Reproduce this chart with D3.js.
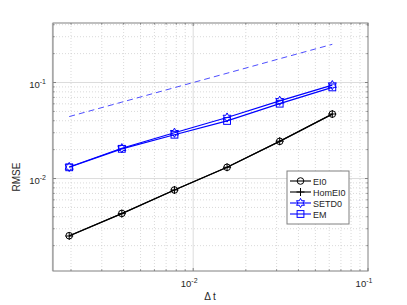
<!DOCTYPE html>
<html>
<head>
    <style type="text/css">
        body { margin: 0; background: #fff; }
        #mySvg { width: 407px; height: 305px; display: block; }
        text { font-family: "Liberation Sans", Arial, sans-serif; fill: #262626; }
        .grid-minor { stroke: #c8c8c8; stroke-width: 0.7px; stroke-dasharray: 1,2; }
        .grid-major { stroke: #dcdcdc; stroke-width: 1px; }
        .frame { fill: none; stroke: #808080; stroke-width: 1px; }
        .series { fill: none; stroke-width: 1.2px; }
    </style>
    <script src="https://d3js.org/d3.v7.min.js"></script>
</head>
<body>
    <svg id="mySvg"></svg>
</body>
<script type="text/javascript">
// step sizes (2^-9 ... 2^-4)
const dt = [0.001953, 0.003906, 0.0078125, 0.015625, 0.03125, 0.0625];

// error values
const ei0    = [0.00254, 0.00433, 0.0076, 0.0131, 0.0244, 0.0469];
const homEi0 = [0.00252, 0.00431, 0.0076, 0.0131, 0.0245, 0.0470];
const setd0  = [0.0132, 0.0207, 0.0300, 0.0432, 0.0645, 0.0940];
const em     = [0.0131, 0.0204, 0.0286, 0.0398, 0.0602, 0.0890];
const refLine = [0.0442, 0.0625, 0.0884, 0.125, 0.177, 0.25];

const seriesNames = ['EI0', 'HomEI0', 'SETD0', 'EM'];
const xTickLabels = ['-2', '-1'];
const yTickLabels = ['-2', '-1'];

const svg = d3.select('#mySvg');
const plotL = 53, plotR = 368, plotT = 23, plotB = 271;

const x = d3.scaleLog().domain([Math.pow(10, -2.802), 0.1]).range([plotL, plotR]);
const y = d3.scaleLog().domain([Math.pow(10, -2.963), Math.pow(10, -0.38)]).range([plotB, plotT]);

// minor / major grid
const xMinor = [], yMinor = [];
[-3, -2].forEach(e => { for (let k = 2; k <= 9; k++) { const v = k * Math.pow(10, e); if (v > x.domain()[0]) xMinor.push(v); } });
[-3, -2, -1].forEach(e => { for (let k = 2; k <= 9; k++) { const v = k * Math.pow(10, e); if (v > y.domain()[0] && v < y.domain()[1]) yMinor.push(v); } });
const xMajor = [0.01], yMajor = [0.01, 0.1];

const g = svg.append('g');
g.selectAll('line.xm').data(xMinor).enter().append('line')
    .attr('class', 'grid-minor')
    .attr('x1', d => x(d)).attr('x2', d => x(d)).attr('y1', plotT).attr('y2', plotB);
g.selectAll('line.ym').data(yMinor).enter().append('line')
    .attr('class', 'grid-minor')
    .attr('y1', d => y(d)).attr('y2', d => y(d)).attr('x1', plotL).attr('x2', plotR);
g.selectAll('line.xM').data(xMajor).enter().append('line')
    .attr('class', 'grid-major')
    .attr('x1', d => x(d)).attr('x2', d => x(d)).attr('y1', plotT).attr('y2', plotB);
g.selectAll('line.yM').data(yMajor).enter().append('line')
    .attr('class', 'grid-major')
    .attr('y1', d => y(d)).attr('y2', d => y(d)).attr('x1', plotL).attr('x2', plotR);

// axes with inward ticks
const tickLen = 3, minorLen = 1.6;
function ticksX(vals, len) {
    vals.forEach(v => {
        g.append('line').attr('x1', x(v)).attr('x2', x(v)).attr('y1', plotB).attr('y2', plotB - len).attr('stroke', '#808080');
        g.append('line').attr('x1', x(v)).attr('x2', x(v)).attr('y1', plotT).attr('y2', plotT + len).attr('stroke', '#808080');
    });
}
function ticksY(vals, len) {
    vals.forEach(v => {
        g.append('line').attr('y1', y(v)).attr('y2', y(v)).attr('x1', plotL).attr('x2', plotL + len).attr('stroke', '#808080');
        g.append('line').attr('y1', y(v)).attr('y2', y(v)).attr('x1', plotR).attr('x2', plotR - len).attr('stroke', '#808080');
    });
}
ticksX(xMinor, minorLen); ticksX(xMajor.concat([0.1]), tickLen);
ticksY(yMinor, minorLen); ticksY(yMajor, tickLen);

g.append('rect').attr('class', 'frame')
    .attr('x', plotL).attr('y', plotT).attr('width', plotR - plotL).attr('height', plotB - plotT);
// the left edge looks a bit heavier in the original
g.append('line').attr('x1', plotL - 0.5).attr('x2', plotL - 0.5).attr('y1', plotT).attr('y2', plotB)
    .attr('stroke', '#a8a8a8').attr('stroke-width', 1.2);

// tick labels
const xTickVals = [0.01, 0.1];
xTickVals.forEach((v, i) => {
    const t = svg.append('text').attr('x', x(v) - 4).attr('y', 287)
        .attr('text-anchor', 'middle').style('font-size', '9.5px');
    t.append('tspan').text('10');
    t.append('tspan').attr('dy', -4).style('font-size', '7px').text(xTickLabels[i]);
});
const yTickVals = [0.01, 0.1];
yTickVals.forEach((v, i) => {
    const t = svg.append('text').attr('x', 46).attr('y', y(v) + 5)
        .attr('text-anchor', 'end').style('font-size', '9.5px');
    t.append('tspan').text('10');
    t.append('tspan').attr('dy', -4).style('font-size', '7px').text(yTickLabels[i]);
});

// axis labels
svg.append('text').attr('x', 210).attr('y', 299.5).attr('text-anchor', 'middle')
    .style('font-size', '10px').text('\u0394 t');
svg.append('text').attr('transform', 'translate(20,177) rotate(-90)').attr('text-anchor', 'middle')
    .style('font-size', '10px').text('RMSE');

// reference slope line
const line = d3.line().x(d => x(d[0])).y(d => y(d[1]));
svg.append('path').datum(d3.zip(dt, refLine))
    .attr('d', line).attr('fill', 'none').attr('stroke', '#3a3aff')
    .attr('stroke-width', 0.9).attr('stroke-dasharray', '6,4');

// marker shapes
function hexagram(r) {
    const pts = [];
    for (let k = 0; k < 12; k++) {
        const a = -Math.PI / 2 + k * Math.PI / 6;
        const rr = k % 2 === 0 ? r : r * 0.55;
        pts.push([rr * Math.cos(a), rr * Math.sin(a)]);
    }
    return 'M' + pts.map(p => p.join(',')).join('L') + 'Z';
}
const markers = {
    circle: s => s.append('circle').attr('r', 3.3).attr('fill', 'none'),
    plus: s => s.append('path').attr('d', 'M-4,0H4M0,-4V4').attr('fill', 'none'),
    hex: s => s.append('path').attr('d', hexagram(4.6)).attr('fill', 'none'),
    square: s => s.append('rect').attr('x', -3.4).attr('y', -3.4).attr('width', 6.8).attr('height', 6.8).attr('fill', 'none')
};

const series = [
    { name: seriesNames[0], vals: ei0, color: '#000', marker: 'circle' },
    { name: seriesNames[1], vals: homEi0, color: '#000', marker: 'plus' },
    { name: seriesNames[2], vals: setd0, color: '#0000ff', marker: 'hex' },
    { name: seriesNames[3], vals: em, color: '#0000ff', marker: 'square' }
];

series.forEach(s => {
    const data = d3.zip(dt, s.vals);
    svg.append('path').datum(data).attr('class', 'series')
        .attr('d', line).attr('stroke', s.color);
    svg.selectAll(null).data(data).enter().append('g')
        .attr('transform', d => 'translate(' + x(d[0]) + ',' + y(d[1]) + ')')
        .attr('stroke', s.color).attr('stroke-width', 1)
        .each(function() { markers[s.marker](d3.select(this)); });
});

// legend
const lg = svg.append('g').attr('transform', 'translate(287,171)');
lg.append('rect').attr('width', 62).attr('height', 53)
    .attr('fill', '#fff').attr('stroke', '#808080').attr('stroke-width', 1);
series.forEach((s, i) => {
    const row = lg.append('g').attr('transform', 'translate(0,' + (10 + i * 11) + ')');
    row.append('line').attr('x1', 3).attr('x2', 24).attr('stroke', s.color).attr('stroke-width', 1.1);
    const m = row.append('g').attr('transform', 'translate(13.5,0)').attr('stroke', s.color).attr('stroke-width', 1);
    markers[s.marker](m);
    row.append('text').attr('x', 26).attr('y', 3.5).style('font-size', '9px').text(s.name);
});
</script>
</html>
